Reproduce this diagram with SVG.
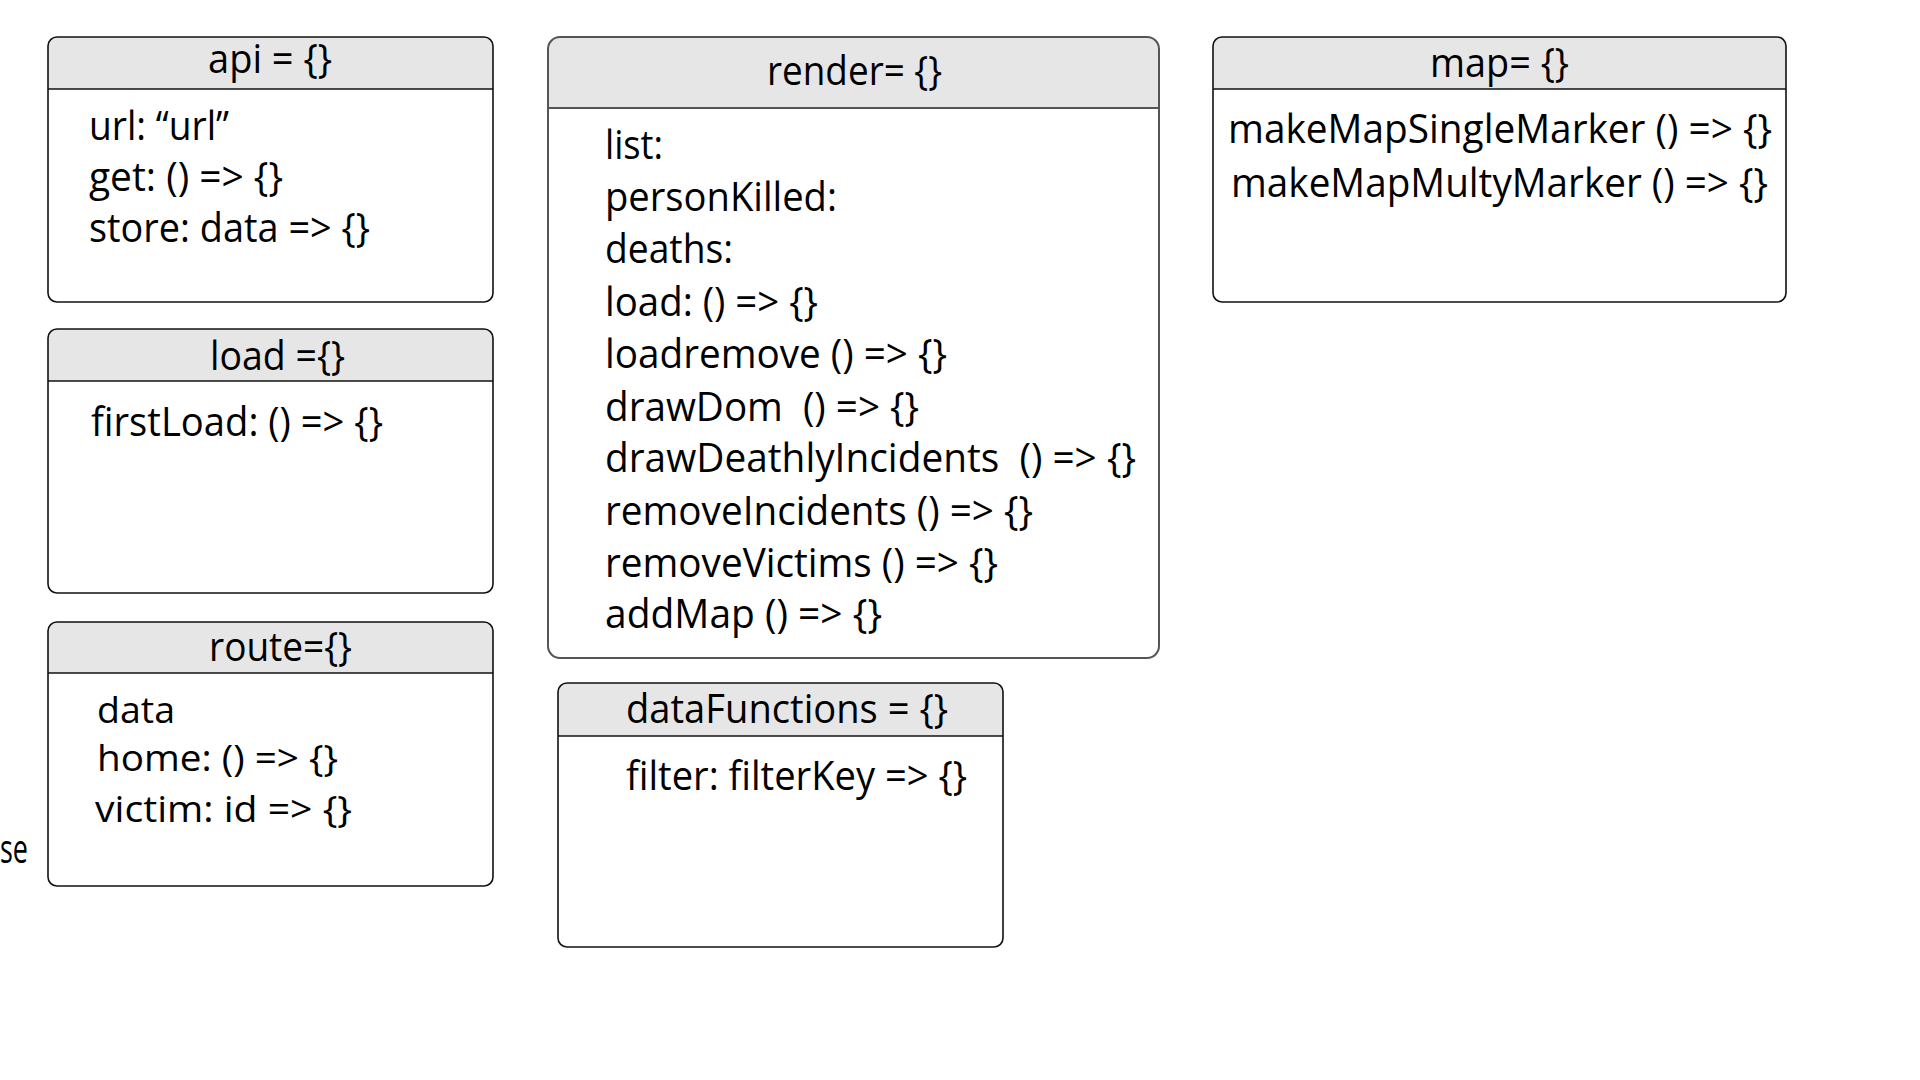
<svg xmlns="http://www.w3.org/2000/svg" width="1920" height="1080" viewBox="0 0 1920 1080">
<style>
.box{fill:#ffffff;stroke:none}
.hdr{fill:#e6e6e6;stroke:none}
.out{fill:none;stroke:#111;stroke-width:1.6}
.outg{fill:none;stroke:#555;stroke-width:2}
.sep{stroke:#111;stroke-width:1.6}
.sepg{stroke:#555;stroke-width:2}
text{font-family:"Open Sans","Noto Sans","DejaVu Sans",sans-serif;font-size:40px;fill:#000}
text.sm{font-size:37px}
</style>
<rect x="0" y="0" width="1920" height="1080" fill="#ffffff"/>
<g id="connectors"></g>

<g id="api">
<rect class="box" x="48" y="37" width="445" height="265" rx="9"/>
<path class="hdr" d="M48,89 V46 a9,9 0 0 1 9,-9 H484 a9,9 0 0 1 9,9 V89 Z"/>
<line class="sep" x1="48" y1="89" x2="493" y2="89"/>
<rect class="out" x="48" y="37" width="445" height="265" rx="9"/>
<text x="208" y="73" textLength="124" lengthAdjust="spacingAndGlyphs">api = {}</text>
<text x="89" y="140" textLength="140" lengthAdjust="spacingAndGlyphs">url: “url”</text>
<text x="89" y="191" textLength="194" lengthAdjust="spacingAndGlyphs">get: () =&gt; {}</text>
<text x="89" y="242" textLength="281" lengthAdjust="spacingAndGlyphs">store: data =&gt; {}</text>
</g>

<g id="load">
<rect class="box" x="48" y="329" width="445" height="264" rx="9"/>
<path class="hdr" d="M48,381 V338 a9,9 0 0 1 9,-9 H484 a9,9 0 0 1 9,9 V381 Z"/>
<line class="sep" x1="48" y1="381" x2="493" y2="381"/>
<rect class="out" x="48" y="329" width="445" height="264" rx="9"/>
<text x="210" y="370" textLength="135" lengthAdjust="spacingAndGlyphs">load ={}</text>
<text x="91" y="436" textLength="292" lengthAdjust="spacingAndGlyphs">firstLoad: () =&gt; {}</text>
</g>

<g id="route">
<rect class="box" x="48" y="622" width="445" height="264" rx="9"/>
<path class="hdr" d="M48,673 V631 a9,9 0 0 1 9,-9 H484 a9,9 0 0 1 9,9 V673 Z"/>
<line class="sep" x1="48" y1="673" x2="493" y2="673"/>
<rect class="out" x="48" y="622" width="445" height="264" rx="9"/>
<text x="209" y="661" textLength="143" lengthAdjust="spacingAndGlyphs">route={}</text>
<text class="sm" x="97" y="723" textLength="78" lengthAdjust="spacingAndGlyphs">data</text>
<text class="sm" x="97" y="771" textLength="241" lengthAdjust="spacingAndGlyphs">home: () =&gt; {}</text>
<text class="sm" x="95" y="822" textLength="257" lengthAdjust="spacingAndGlyphs">victim: id =&gt; {}</text>
</g>

<g id="fragment">
<text x="0" y="863" textLength="28" lengthAdjust="spacingAndGlyphs">se</text>
</g>

<g id="render">
<rect class="box" x="548" y="37" width="611" height="621" rx="12"/>
<path class="hdr" d="M548,108 V49 a12,12 0 0 1 12,-12 H1147 a12,12 0 0 1 12,12 V108 Z"/>
<line class="sepg" x1="548" y1="108" x2="1159" y2="108"/>
<rect class="outg" x="548" y="37" width="611" height="621" rx="12"/>
<text x="767" y="85" textLength="175" lengthAdjust="spacingAndGlyphs">render= {}</text>
<text x="605" y="159" textLength="58" lengthAdjust="spacingAndGlyphs">list:</text>
<text x="605" y="211" textLength="232" lengthAdjust="spacingAndGlyphs">personKilled:</text>
<text x="605" y="263" textLength="128" lengthAdjust="spacingAndGlyphs">deaths:</text>
<text x="605" y="316" textLength="213" lengthAdjust="spacingAndGlyphs">load: () =&gt; {}</text>
<text x="605" y="368" textLength="342" lengthAdjust="spacingAndGlyphs">loadremove () =&gt; {}</text>
<text x="605" y="421" textLength="314" lengthAdjust="spacingAndGlyphs" xml:space="preserve">drawDom  () =&gt; {}</text>
<text x="605" y="472" textLength="531" lengthAdjust="spacingAndGlyphs" xml:space="preserve">drawDeathlyIncidents  () =&gt; {}</text>
<text x="605" y="525" textLength="428" lengthAdjust="spacingAndGlyphs">removeIncidents () =&gt; {}</text>
<text x="605" y="577" textLength="393" lengthAdjust="spacingAndGlyphs">removeVictims () =&gt; {}</text>
<text x="605" y="628" textLength="277" lengthAdjust="spacingAndGlyphs">addMap () =&gt; {}</text>
</g>

<g id="dataFunctions">
<rect class="box" x="558" y="683" width="445" height="264" rx="9"/>
<path class="hdr" d="M558,736 V692 a9,9 0 0 1 9,-9 H994 a9,9 0 0 1 9,9 V736 Z"/>
<line class="sep" x1="558" y1="736" x2="1003" y2="736"/>
<rect class="out" x="558" y="683" width="445" height="264" rx="9"/>
<text x="626" y="723" textLength="322" lengthAdjust="spacingAndGlyphs">dataFunctions = {}</text>
<text x="626" y="790" textLength="341" lengthAdjust="spacingAndGlyphs">filter: filterKey =&gt; {}</text>
</g>

<g id="map">
<rect class="box" x="1213" y="37" width="573" height="265" rx="9"/>
<path class="hdr" d="M1213,89 V46 a9,9 0 0 1 9,-9 H1777 a9,9 0 0 1 9,9 V89 Z"/>
<line class="sep" x1="1213" y1="89" x2="1786" y2="89"/>
<rect class="out" x="1213" y="37" width="573" height="265" rx="9"/>
<text x="1430" y="77" textLength="139" lengthAdjust="spacingAndGlyphs">map= {}</text>
<text x="1228" y="143" textLength="544" lengthAdjust="spacingAndGlyphs">makeMapSingleMarker () =&gt; {}</text>
<text x="1231" y="197" textLength="537" lengthAdjust="spacingAndGlyphs">makeMapMultyMarker () =&gt; {}</text>
</g>
</svg>
